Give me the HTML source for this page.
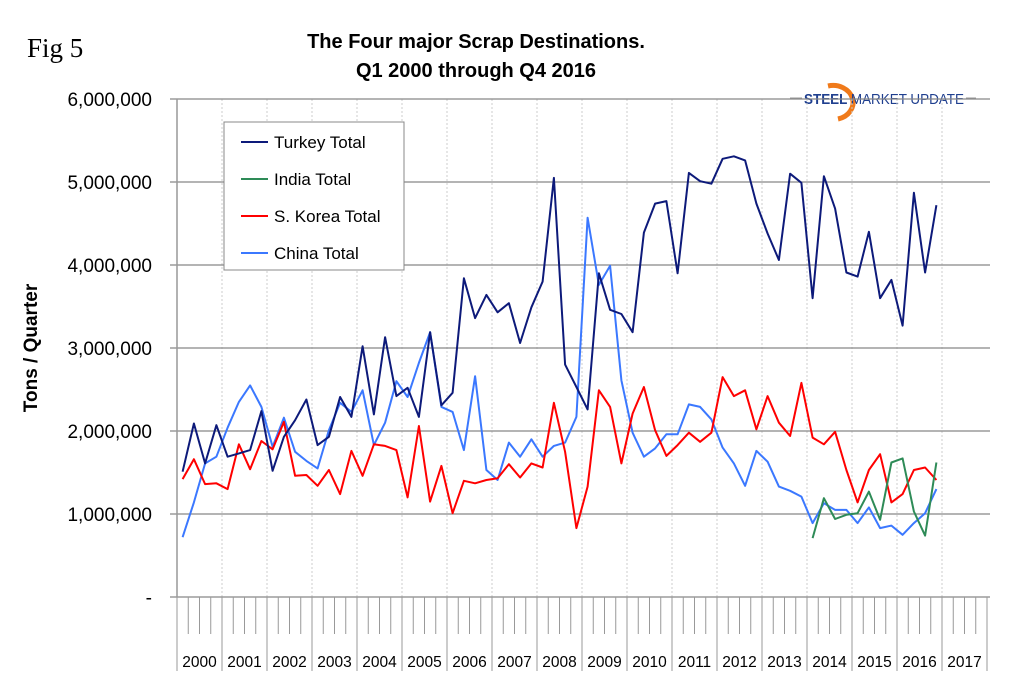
<!DOCTYPE html>
<html><head><meta charset="utf-8"><style>
html,body{margin:0;padding:0;background:#fff;}
svg{display:block;font-family:"Liberation Sans",sans-serif;}
</style></head><body>
<svg id="chart" width="1009" height="689" viewBox="0 0 1009 689" xmlns="http://www.w3.org/2000/svg">
<text x="27" y="57" font-family="Liberation Serif, serif" font-size="27">Fig 5</text>
<text x="476" y="48" text-anchor="middle" font-size="20" font-weight="bold">The Four major Scrap Destinations.</text>
<text x="476" y="77" text-anchor="middle" font-size="20" font-weight="bold">Q1 2000 through Q4 2016</text>
<g>
<path d="M828 86 A20 17 0 1 1 838 119" fill="none" stroke="#f07a1a" stroke-width="5"/>
<line x1="790" y1="98" x2="802" y2="98" stroke="#999" stroke-width="1"/>
<line x1="966" y1="98" x2="976" y2="98" stroke="#999" stroke-width="1"/>
<text x="804" y="104" font-size="15" font-weight="bold" fill="#1f3f8f" textLength="160" lengthAdjust="spacingAndGlyphs">STEEL <tspan font-weight="normal">MARKET UPDATE</tspan></text>
</g>
<text transform="translate(37,348) rotate(-90)" text-anchor="middle" font-size="19" font-weight="bold">Tons / Quarter</text>
<g id="grid"></g>
<g id="axes"></g>
<g id="series"></g>
<g>
<rect x="224" y="122" width="180" height="148" fill="#fff" stroke="#888" stroke-width="1"/>
<g><line x1="241" y1="142" x2="268" y2="142" stroke="#0d1a7a" stroke-width="2"/><text x="274" y="148" font-size="17">Turkey Total</text></g>
<g><line x1="241" y1="179" x2="268" y2="179" stroke="#2e8b57" stroke-width="2"/><text x="274" y="185" font-size="17">India Total</text></g>
<g><line x1="241" y1="216" x2="268" y2="216" stroke="#ff0000" stroke-width="2"/><text x="274" y="222" font-size="17">S. Korea Total</text></g>
<g><line x1="241" y1="253" x2="268" y2="253" stroke="#3b78ff" stroke-width="2"/><text x="274" y="259" font-size="17">China Total</text></g>
</g>
</svg>
<script>
const years = [2000,2001,2002,2003,2004,2005,2006,2007,2008,2009,2010,2011,2012,2013,2014,2015,2016,2017];
const yTicks = [0,1000000,2000000,3000000,4000000,5000000,6000000];
const yTickLabels = ["-","1,000,000","2,000,000","3,000,000","4,000,000","5,000,000","6,000,000"];
const turkey = [1.51,2.09,1.61,2.07,1.69,1.73,1.77,2.24,1.52,1.93,2.13,2.38,1.83,1.93,2.41,2.17,3.02,2.20,3.13,2.42,
2.52,2.17,3.19,2.31,2.46,3.84,3.36,3.64,3.43,3.54,3.06,3.49,3.80,5.05,2.80,2.53,2.26,3.90,3.46,3.41,
3.19,4.39,4.74,4.77,3.90,5.11,5.01,4.98,5.28,5.31,5.26,4.74,4.38,4.06,5.10,4.99,3.60,5.07,4.68,3.91,3.86,4.40,3.60,3.82,3.27,4.87,3.91,4.72];
const korea = [1.42,1.66,1.36,1.37,1.30,1.84,1.54,1.88,1.78,2.11,1.46,1.47,1.34,1.53,1.24,1.76,1.46,1.84,1.82,1.77,
1.20,2.06,1.15,1.58,1.01,1.40,1.37,1.41,1.43,1.60,1.44,1.61,1.56,2.34,1.75,0.83,1.33,2.49,2.29,1.61,
2.21,2.53,2.01,1.70,1.83,1.98,1.87,1.98,2.65,2.42,2.49,2.02,2.42,2.10,1.94,2.58,1.92,1.84,1.99,1.53,1.14,1.53,1.72,1.14,1.24,1.53,1.56,1.41];
const china = [0.72,1.14,1.61,1.69,2.04,2.35,2.55,2.29,1.81,2.16,1.75,1.64,1.55,2.01,2.34,2.23,2.49,1.83,2.10,2.60,
2.41,2.82,3.19,2.29,2.23,1.77,2.66,1.53,1.41,1.86,1.69,1.90,1.69,1.82,1.86,2.17,4.57,3.76,3.99,2.61,
1.98,1.69,1.79,1.96,1.96,2.32,2.29,2.14,1.80,1.61,1.34,1.76,1.63,1.33,1.28,1.21,0.89,1.13,1.05,1.05,0.89,1.08,0.83,0.86,0.75,0.89,1.01,1.30];
const india = [null,null,null,null,null,null,null,null,null,null,null,null,null,null,null,null,null,null,null,null,
null,null,null,null,null,null,null,null,null,null,null,null,null,null,null,null,null,null,null,null,
null,null,null,null,null,null,null,null,null,null,null,null,null,null,null,null,0.71,1.19,0.94,0.99,1.01,1.27,0.93,1.62,1.67,1.03,0.74,1.62];

const NS='http://www.w3.org/2000/svg';
const X0=177, QW=11.25, Y0=597, YTOP=99, YMAX=6000000;
const xQ = i => X0 + QW*(i+0.5);
const yV = v => Y0 - (v/YMAX)*(Y0-YTOP);
function mk(tag, attrs, parent){const e=document.createElementNS(NS,tag);for(const k in attrs)e.setAttribute(k,attrs[k]);parent.appendChild(e);return e;}
const grid=document.getElementById('grid'), axes=document.getElementById('axes'), series=document.getElementById('series');

years.forEach((yr,k)=>{
  const x=X0+k*45;
  if(k>0){const g=mk('line',{x1:x,y1:YTOP,x2:x,y2:Y0,stroke:'#ccc','stroke-dasharray':'2,2'},grid);
  
  }
  const s=mk('line',{x1:x,y1:Y0,x2:x,y2:671,stroke:'#999'},axes);
  
  
  for(let q=1;q<4;q++){const t=mk('line',{x1:x+q*QW,y1:Y0,x2:x+q*QW,y2:634,stroke:'#999'},axes);
  
  }
  const lb=mk('text',{x:x+22.5,y:667,'text-anchor':'middle','font-size':'15.5'},axes);
  lb.textContent=yr;
  
  
});
mk('line',{x1:X0+18*45,y1:Y0,x2:X0+18*45,y2:671,stroke:'#999'},axes);
yTicks.forEach((v,k)=>{
  const y=yV(v);
  const g=mk('line',{x1:170,y1:y,x2:990,y2:y,stroke:'#888','stroke-width':1.2},grid);
  
  
  const lb=mk('text',{x:152,y:y+7,'text-anchor':'end','font-size':'19'},axes);
  lb.textContent=yTickLabels[k];
  
  
});
const ax=mk('line',{x1:X0,y1:YTOP,x2:X0,y2:Y0,stroke:'#999','stroke-width':1.5},axes);



function draw(arr,color,name){
  let d='';arr.forEach((v,i)=>{if(v==null)return;d+=(d?'L':'M')+xQ(i).toFixed(1)+' '+yV(v*1000000).toFixed(1);});
  const p=mk('path',{d:d,fill:'none',stroke:color,'stroke-width':2,'stroke-linejoin':'round'},series);
  
  
}
draw(china,'#3b78ff','china-line');
draw(korea,'#ff0000','korea-line');
draw(india,'#2e8b57','india-line');
draw(turkey,'#0d1a7a','turkey-line');
</script>
</body></html>
